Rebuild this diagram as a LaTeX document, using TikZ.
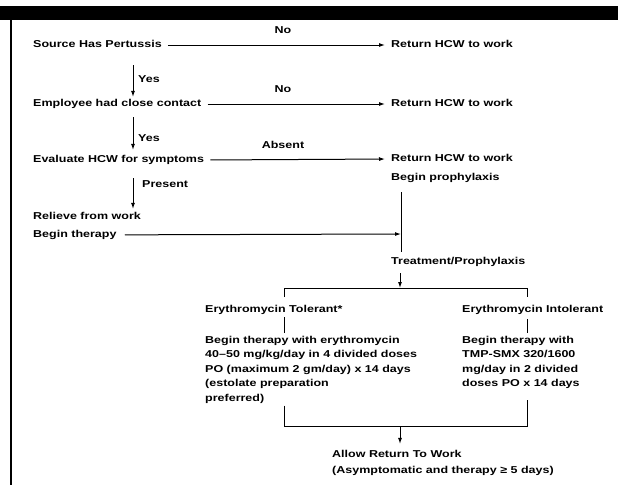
\documentclass[tikz,border=0pt]{standalone}
\usepackage{fontspec}
\setmainfont{Liberation Sans}[FakeStretch=1.25]
\usetikzlibrary{arrows.meta,positioning}

\begin{document}
\begin{tikzpicture}[
	x=1pt, y=-1pt,
	every node/.style={font=\bfseries\fontsize{10}{14.5}\selectfont, inner sep=0pt},
	txt/.style={anchor=west, text height=7.5pt, text depth=2.2pt},
	blk/.style={anchor=north west, align=left},
	lbl/.style={text height=7.5pt, text depth=2.2pt},
	side/.style={anchor=west, text height=7.5pt, text depth=2.2pt},
	arrow/.style={-{Latex[length=6pt,width=4pt]}, line width=1pt},
	link/.style={line width=1pt}
	]
	\useasboundingbox (0,0) rectangle (618,485);
	
	% frame
	\fill (0,6) rectangle (618,20);
	\draw[line width=1.6pt] (11,20) -- (11,485);
	
	\node[txt] (src) at (33,45) {Source Has Pertussis};
	\node[txt] (ret1) at (391,45) {Return HCW to work};
	\node[txt] (emp) at (33,104) {Employee had close contact};
	\node[txt] (ret2) at (391,104) {Return HCW to work};
	\node[txt] (eval) at (33,160) {Evaluate HCW for symptoms};
	\node[txt] (ret3) at (391,159) {Return HCW to work};
	\node[txt] (proph) at (391,178) {Begin prophylaxis};
	\node[txt] (rel) at (33,217) {Relieve from work};
	\node[txt] (bth) at (33,235) {Begin therapy};
	\node[txt] (trt) at (391,262) {Treatment/Prophylaxis};
	\node[txt] (tol) at (205,310) {Erythromycin Tolerant*};
	\node[txt] (intol) at (462,310) {Erythromycin Intolerant};
	\node[blk] (ery) at (205,336) {Begin therapy with erythromycin\\40--50 mg/kg/day in 4 divided doses\\PO (maximum 2 gm/day) x 14 days\\(estolate preparation\\preferred)};
	\node[blk] (tmp) at (462,336) {Begin therapy with\\TMP-SMX 320/1600\\mg/day in 2 divided\\doses PO x 14 days};
	\node[txt] (allow) at (332,455) {Allow Return To Work};
	\node[txt] (asym) at (332,471) {(Asymptomatic and therapy ≥ 5 days)};
	
	\node[lbl] (no1) at (283,31) {No};
	\node[lbl] (no2) at (283,90) {No};
	\node[lbl] (abs) at (283,146) {Absent};
	\node[side] (yes1) at (138,80) {Yes};
	\node[side] (yes2) at (138,139) {Yes};
	\node[side] (pres) at (142,185) {Present};
	
	\coordinate (jn) at (401,234);
	\coordinate (topL) at (284,288);
	\coordinate (topR) at (527,288);
	\coordinate (botL) at (284,426);
	\coordinate (botR) at (527,426);
	\coordinate (botM) at (400,426);
	
	\draw[arrow, shorten <=6pt, shorten >=6pt] (src) -- (ret1);
	\draw[arrow, shorten <=6pt, shorten >=6pt] (emp) -- (ret2);
	\draw[arrow, shorten <=6pt, shorten >=6pt] (eval.east) -- (ret3.west);
	\draw[arrow, shorten <=15pt, shorten >=2pt] ([xshift=100pt]src.south west) -- ([xshift=100pt]emp.north west);
	\draw[arrow, shorten <=8pt, shorten >=5pt] ([xshift=100pt]emp.south west) -- ([xshift=100pt]eval.north west);
	\draw[arrow, shorten <=13pt, shorten >=3pt] ([xshift=100pt]eval.south west) -- ([xshift=100pt]rel.north west);
	\draw[arrow, shorten <=8pt] (bth) -- (jn);
	\draw[link, shorten <=9pt, shorten >=5pt] (proph.south -| jn) -- (trt.north -| jn);
	
	\draw[arrow, shorten <=6pt] ([xshift=9pt]trt.south west) -- ([xshift=9pt]trt.south west |- topL);
	\draw[link] ([yshift=-9pt]topL) -- (topL) -- (topR) -- ([yshift=-9pt]topR);
	\draw[link, shorten <=2pt, shorten >=3pt] (tol.south -| topL) -- (ery.north -| topL);
	\draw[link, shorten <=4pt, shorten >=3pt] (intol.south -| topR) -- (tmp.north -| topR);
	
	\draw[link, shorten <=2pt] (ery.south -| botL) -- (botL) -- (botR) -- ([yshift=26pt]botR);
	\draw[arrow, shorten >=6pt] (botM) -- (botM |- allow.north);
	
\end{tikzpicture}
\end{document}
